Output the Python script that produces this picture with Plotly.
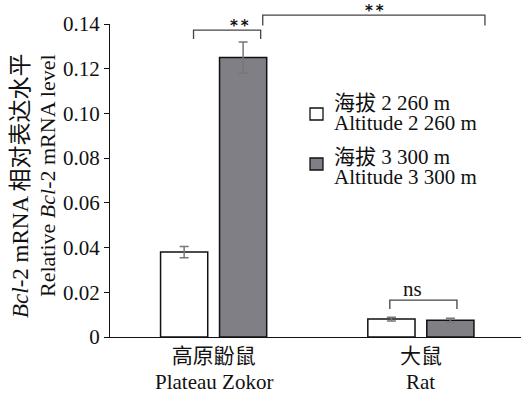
import plotly.graph_objects as go

# ---- data ----
categories_cn = ["高原鼢鼠", "大鼠"]
categories_en = ["Plateau Zokor", "Rat"]
series_cn = ["海拔 2 260 m", "海拔 3 300 m"]
series_en = ["Altitude 2 260 m", "Altitude 3 300 m"]
values_2260 = [0.038, 0.0080]
errors_2260 = [0.0025, 0.0008]
values_3300 = [0.125, 0.0075]
errors_3300 = [0.007, 0.0009]
y_ticks = [0, 0.02, 0.04, 0.06, 0.08, 0.10, 0.12, 0.14]
y_tick_labels = ["0", "0.02", "0.04", "0.06", "0.08", "0.10", "0.12", "0.14"]

# significance brackets: (x0, x1, y_top, y_leg, label) in data units
brackets = [
    (-0.097, 0.227, 0.1373, 0.1333, "*\u2009*"),
    (0.237, 1.309, 0.1440, 0.1393, "*\u2009*"),
    (0.850, 1.174, 0.0165, 0.0125, "ns"),
]

FONT = "Liberation Serif"
FONT_CJK = "Liberation Serif, Noto Sans CJK SC"
XR = [-0.5, 1.483]
YR = [0, 0.14]
BAR_FILL = ["white", "#807f85"]

W, H = 521, 394
ML, MT, MB = 110, 24, 57
PW = W - ML
PH = H - MT - MB

fig = go.Figure()
xpos = [0, 1]
fig.add_trace(go.Bar(
    x=xpos, y=values_2260, name=series_en[0], showlegend=False,
    marker=dict(color=BAR_FILL[0], line=dict(color="#111111", width=1.5)),
    error_y=dict(type="data", array=errors_2260, color="#777777", thickness=1.5, width=4.5),
))
fig.add_trace(go.Bar(
    x=xpos, y=values_3300, name=series_en[1], showlegend=False,
    marker=dict(color=BAR_FILL[1], line=dict(color="#111111", width=1.5)),
    error_y=dict(type="data", array=errors_3300, color="#777777", thickness=1.5, width=4.5),
))

def px_(x):
    return (x - XR[0]) / (XR[1] - XR[0])

def py_(y):
    return (y - YR[0]) / (YR[1] - YR[0])

def pgx(p):  # page pixel x -> paper
    return (p - ML) / PW

def pgy(p):  # page pixel y -> paper
    return (H - MB - p) / PH

shapes = []
annotations = []
for x0, x1, yt, yl, lab in brackets:
    shapes.append(dict(
        type="path", xref="paper", yref="paper",
        path=f"M {px_(x0)} {py_(yl)} L {px_(x0)} {py_(yt)} L {px_(x1)} {py_(yt)} L {px_(x1)} {py_(yl)}",
        line=dict(color="#444444", width=1.3),
    ))
    if lab == "ns":
        annotations.append(dict(
            x=px_((x0 + x1) / 2) + 1.0 / PW, y=py_(yt), xref="paper", yref="paper",
            text=lab, showarrow=False, yanchor="middle", yshift=11,
            font=dict(family=FONT, size=21, color="#111111"),
        ))
    else:
        annotations.append(dict(
            x=px_((x0 + x1) / 2) + 1.0 / PW, y=py_(yt), xref="paper", yref="paper",
            text=lab, showarrow=False, yanchor="middle", yshift=4,
            font=dict(family="DejaVu Sans", size=15, color="#111111", weight="bold"),
        ))

# y-axis title (two lines, rotated)
annotations.append(dict(
    x=pgx(20), y=pgy(186), xref="paper", yref="paper", textangle=-90,
    text="<i>Bcl</i>-2 mRNA 相对表达水平", showarrow=False,
    xanchor="center", yanchor="middle",
    font=dict(family=FONT_CJK, size=23, color="#111111"),
))
annotations.append(dict(
    x=pgx(47), y=pgy(176), xref="paper", yref="paper", textangle=-90,
    text="Relative <i>Bcl</i>-2 mRNA level", showarrow=False,
    xanchor="center", yanchor="middle",
    font=dict(family=FONT, size=22, color="#111111"),
))

# category labels (English line below the Chinese tick label)
for xv, en in zip(xpos, categories_en):
    annotations.append(dict(
        x=xv, y=0, xref="x", yref="paper", text=en, showarrow=False,
        xanchor="center", yanchor="middle", yshift=-45,
        font=dict(family=FONT, size=21, color="#111111"),
    ))

# legend (manual: square + two text lines)
leg_rows = [(108, 103, 123), (158, 157, 177)]
for i, (sq_y, y1, y2) in enumerate(leg_rows):
    shapes.append(dict(
        type="rect", xref="paper", yref="paper",
        x0=pgx(310), x1=pgx(323), y0=pgy(sq_y), y1=pgy(sq_y + 12),
        fillcolor=BAR_FILL[i], line=dict(color="#111111", width=1.3),
    ))
    annotations.append(dict(
        x=pgx(332), y=pgy(y1), xref="paper", yref="paper", text=series_cn[i],
        showarrow=False, xanchor="left", yanchor="middle",
        font=dict(family=FONT_CJK, size=21, color="#111111"),
    ))
    annotations.append(dict(
        x=pgx(332), y=pgy(y2), xref="paper", yref="paper", text=series_en[i],
        showarrow=False, xanchor="left", yanchor="middle",
        font=dict(family=FONT, size=21, color="#111111"),
    ))

fig.update_layout(
    width=W, height=H, autosize=False,
    margin=dict(l=ML, r=0, t=MT, b=MB, autoexpand=False),
    paper_bgcolor="white", plot_bgcolor="white",
    barmode="group", bargap=0.431, bargroupgap=0.2,
    font=dict(family=FONT_CJK, size=21, color="#111111"),
    shapes=shapes, annotations=annotations,
    xaxis=dict(
        range=XR, tickvals=xpos, ticktext=categories_cn,
        showline=True, linecolor="#111111", linewidth=1.3,
        ticks="", showgrid=False, zeroline=False,
        tickfont=dict(family=FONT_CJK, size=21, color="#111111"),
    ),
    yaxis=dict(
        range=YR, tickvals=y_ticks, ticktext=y_tick_labels,
        showline=True, linecolor="#111111", linewidth=1.3,
        ticks="outside", ticklen=5, tickcolor="#111111",
        showgrid=False, zeroline=False,
        tickfont=dict(family=FONT, size=21, color="#111111"),
    ),
)

fig.write_html(
    "out.html",
    config={"displayModeBar": False},
    post_script="document.body.style.margin='0';document.body.style.overflow='hidden';",
)
